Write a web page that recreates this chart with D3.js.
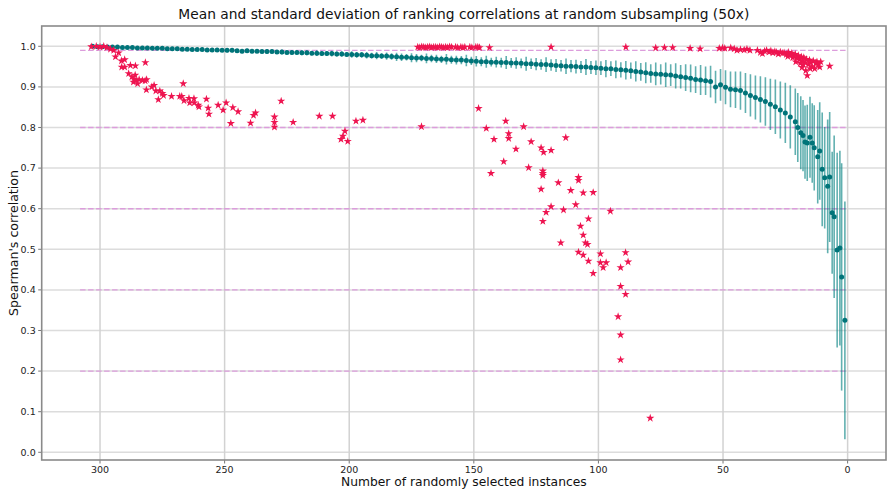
<!DOCTYPE html>
<html><head><meta charset="utf-8">
<script src="https://cdn.jsdelivr.net/npm/d3@7"></script>
<style>
html,body{margin:0;padding:0;background:#fff}
svg{display:block;font-family:"DejaVu Sans",sans-serif}
</style></head><body>
<svg id="chart" width="889" height="489"></svg>
<script>
// subsample size / mean spearman / std (50 runs)
const tealN = [303,301,299,297,295,293,291,289,287,285,283,281,279,277,275,273,271,269,267,265,263,261,259,257,255,253,251,249,247,245,243,241,239,237,235,233,231,229,227,225,223,221,219,217,215,213,211,209,207,205,203,201,199,197,195,193,191,189,187,185,183,181,179,177,175,173,171,169,167,165,163,161,159,157,155,153,151,149,147,145,143,141,139,137,135,133,131,129,127,125,123,121,119,117,115,113,111,109,107,105,103,101,99,97,95,93,91,89,87,85,83,81,79,77,75,73,71,69,67,65,63,61,59,57,55,53,51,49,47,45,43,41,39,37,35,33,31,29,27,25,23,21,20,18.8,17.9,17.1,16.2,15.1,14.2,13.4,12.0,11.2,10.2,9.2,8.0,7.2,6.2,5.4,4.2,3.1,2.4,1.1];
const tealMean = [1.000,.999,.999,.998,.998,.998,.997,.997,.997,.996,.996,.996,.995,.995,.995,.994,.994,.994,.993,.993,.992,.992,.992,.991,.991,.991,.990,.990,.990,.989,.988,.989,.988,.988,.987,.987,.987,.986,.986,.985,.985,.985,.984,.984,.983,.983,.982,.982,.982,.981,.981,.980,.980,.979,.979,.978,.977,.977,.976,.976,.975,.974,.973,.973,.972,.971,.971,.970,.970,.969,.968,.968,.967,.966,.966,.965,.964,.963,.962,.962,.961,.961,.960,.960,.959,.959,.958,.957,.957,.956,.955,.955,.954,.953,.952,.951,.951,.950,.949,.949,.948,.947,.946,.945,.945,.943,.942,.941,.940,.938,.937,.935,.933,.932,.931,.930,.929,.927,.925,.923,.921,.918,.917,.915,.913,.900,.905,.899,.894,.893,.891,.885,.879,.874,.869,.864,.857,.851,.843,.836,.826,.814,.800,.787,.780,.764,.762,.776,.762,.750,.728,.742,.697,.676,.655,.678,.590,.580,.498,.503,.432,.325];
const tealSd = [.002,.002,.002,.003,.002,.003,.003,.002,.003,.003,.003,.003,.003,.003,.004,.003,.004,.003,.004,.004,.004,.003,.004,.004,.005,.004,.004,.005,.005,.004,.005,.005,.005,.004,.005,.006,.005,.005,.006,.005,.006,.005,.006,.006,.005,.007,.006,.006,.007,.006,.007,.006,.008,.007,.007,.008,.007,.009,.007,.009,.008,.010,.009,.008,.011,.010,.008,.012,.009,.010,.009,.013,.010,.011,.010,.014,.010,.013,.011,.015,.011,.013,.012,.016,.012,.014,.012,.017,.013,.015,.013,.018,.014,.016,.014,.019,.015,.017,.015,.020,.016,.018,.017,.021,.018,.022,.019,.023,.020,.025,.022,.026,.023,.028,.025,.030,.027,.031,.029,.033,.034,.033,.037,.035,.039,.040,.039,.042,.044,.045,.047,.049,.052,.054,.057,.060,.063,.067,.070,.074,.078,.082,.085,.090,.088,.090,.094,.100,.098,.105,.115,.120,.140,.125,.165,.160,.150,.200,.240,.240,.280,.293];

// second ranking (single run)
const redN = [303.5,301.5,300,298.5,297.2,295.8,294.5,293.8,292.5,291.4,290.1,291.3,290.1,287.8,285.8,288.5,281.8,287.2,286.3,286.6,285.6,284.9,285.9,284.3,283,281.9,281.3,281.4,279.2,278.3,277.6,276.6,276,275,274.5,271.3,266.6,268,267.2,266.3,264.3,264,262.3,262.2,260.6,260.3,257.3,256.6,256.3,252.6,250.6,249.4,247.5,246.7,244.6,239.6,238.4,237.6,230,230,230,227.3,222.5,212,206.7,202.5,201.7,203.3,200.6,197.3,194.5,
  172.5,171.7,170.9,170.1,169.3,168.5,167.7,166.9,166.1,165.3,164.5,163.7,162.9,162.1,161.3,160.5,159.7,158.9,157.3,156.5,155.2,154.4,153.6,151.6,150.8,149.2,148.4,147.7,143.7,119,
  148.1,171,145,137.2,141.9,136,136,130,127,133.1,123,122,119,113.1,138,143.1,128,122.3,122.3,122.3,116.1,108,108,111.1,106.1,102.1,123,119,121,114,109.1,95.2,122.3,104,107.2,106.1,105.2,104.4,115.1,108,106.1,104,102.1,99.2,99.2,98.1,96.9,89.1,88.1,91.1,91.1,89.1,92.1,91.1,91.1,79.2,
  89,77,73.5,70.2,63.2,59.2,51.5,50.2,49.3,46.9,45.5,44.4,43,41.5,40.4,39.2,36.2,35,34.2,33.3,32.5,31.5,30.8,30,29.2,28.6,27.8,27,26.2,25.5,24.6,23.8,23,22.4,21.6,21,20.4,19.8,19.2,18.6,18,17.6,17,16.5,16.2,15.8,15.3,14.8,14.3,13.8,13.2,12.8,12.3,11.8,11.2,10.8,7.2,17.8,19,20.8,22,24,18.3,16.8,15];
const redRho = [.999,1.0,.998,1.0,.997,.993,.99,.974,.984,.964,.967,.949,.949,.953,.952,.933,.96,.925,.918,.912,.916,.908,.929,.918,.916,.915,.918,.893,.9,.904,.89,.869,.89,.884,.879,.877,.908,.877,.877,.866,.872,.861,.871,.861,.855,.851,.87,.848,.833,.855,.843,.861,.81,.849,.839,.811,.83,.836,.826,.813,.801,.865,.813,.828,.828,.779,.791,.771,.766,.816,.818,
  .998,.997,.999,.998,.997,.998,.999,.997,.998,.998,.997,.999,.998,.997,.998,.997,.999,.998,.998,.997,.998,.997,.998,.998,.997,.998,.998,.997,.997,.998,
  .847,.802,.798,.816,.771,.785,.773,.802,.765,.747,.75,.739,.744,.775,.716,.687,.701,.693,.687,.682,.664,.677,.67,.645,.639,.64,.648,.605,.591,.597,.61,.594,.569,.575,.557,.535,.516,.512,.516,.493,.486,.471,.441,.489,.467,.455,.467,.492,.469,.455,.409,.389,.334,.289,.228,.084,
  .998,.996,.997,.997,.995,.994,.995,.996,.995,.996,.994,.99,.992,.991,.993,.99,.99,.985,.982,.988,.99,.986,.989,.984,.987,.985,.981,.986,.983,.984,.98,.985,.978,.983,.975,.98,.971,.977,.968,.974,.965,.972,.96,.968,.928,.955,.966,.96,.95,.964,.945,.958,.962,.955,.949,.962,.951,.955,.958,.962,.972,.975,.948,.94,.945];

const refLevels = [0.99, 0.8, 0.6, 0.4, 0.2];
const refSpan = [308, 0];
const xTicks = [300, 250, 200, 150, 100, 50, 0];
const yTicks = [0, 0.1, 0.2, 0.3, 0.4, 0.5, 0.6, 0.7, 0.8, 0.9, 1.0];

const L = 41.7, R = 886, T = 26, B = 460;
const x = d3.scaleLinear().domain([323.4, -15.4]).range([L, R]);
const y = d3.scaleLinear().domain([-0.019, 1.05]).range([B, T]);
const svg = d3.select('#chart');

svg.append('defs').append('clipPath').attr('id', 'plot')
  .append('rect').attr('x', L).attr('y', T).attr('width', R - L).attr('height', B - T);

// grid
const grid = svg.append('g').attr('stroke', '#dcdcdc').attr('stroke-width', 1.5);
grid.selectAll('.gy').data(yTicks).join('line').attr('class', 'gy')
  .attr('x1', L).attr('x2', R).attr('y1', d => y(d)).attr('y2', d => y(d));
grid.selectAll('.gx').data(xTicks).join('line').attr('class', 'gx')
  .attr('y1', T).attr('y2', B).attr('x1', d => x(d)).attr('x2', d => x(d)).attr('stroke', '#d2d2d2');

// dashed reference levels
svg.append('g').selectAll('line').data(refLevels).join('line')
  .attr('x1', x(refSpan[0])).attr('x2', x(refSpan[1]))
  .attr('y1', d => y(d)).attr('y2', d => y(d))
  .attr('stroke', '#dc9ddc').attr('stroke-width', 1.4).attr('stroke-dasharray', '5.5,2.5');

const plot = svg.append('g').attr('clip-path', 'url(#plot)');

// error bars + means
plot.append('g').selectAll('line').data(tealN).join('line')
  .attr('x1', d => x(d)).attr('x2', d => x(d))
  .attr('y1', (d, i) => y(tealMean[i] + tealSd[i])).attr('y2', (d, i) => y(tealMean[i] - tealSd[i]))
  .attr('stroke', '#008080').attr('stroke-opacity', 0.62).attr('stroke-width', 1.6);
plot.append('g').selectAll('circle').data(tealN).join('circle')
  .attr('cx', d => x(d)).attr('cy', (d, i) => y(tealMean[i])).attr('r', 2.5)
  .attr('fill', '#007479');

// stars
const star = d3.symbol(d3.symbolStar, 21)();
plot.append('g').selectAll('path').data(redN).join('path')
  .attr('d', star)
  .attr('transform', (d, i) => `translate(${x(d)},${y(redRho[i])})`)
  .attr('fill', '#ee1450');

// axes
const ax = svg.append('g').attr('font-size', 9.5).attr('fill', '#222');
ax.selectAll('.ty').data(yTicks).join('line').attr('class', 'ty')
  .attr('x1', L - 3.5).attr('x2', L).attr('y1', d => y(d)).attr('y2', d => y(d)).attr('stroke', '#777');
ax.selectAll('.ly').data(yTicks).join('text').attr('class', 'ly')
  .attr('x', L - 6).attr('y', d => y(d)).attr('dy', '0.35em').attr('text-anchor', 'end')
  .text(d3.format('.1f'));
ax.selectAll('.tx').data(xTicks).join('line').attr('class', 'tx')
  .attr('x1', d => x(d)).attr('x2', d => x(d)).attr('y1', B).attr('y2', B + 3.5).attr('stroke', '#777');
ax.selectAll('.lx').data(xTicks).join('text').attr('class', 'lx')
  .attr('x', d => x(d)).attr('y', B + 12.5).attr('text-anchor', 'middle').text(d => d);

// frame
svg.append('rect').attr('x', L).attr('y', T).attr('width', R - L).attr('height', B - T)
  .attr('fill', 'none').attr('stroke', '#8a8a8a').attr('stroke-width', 1.6);

// labels
svg.append('text').attr('x', (L + R) / 2).attr('y', 19).attr('text-anchor', 'middle')
  .attr('font-size', 13.8).attr('fill', '#111')
  .text('Mean and standard deviation of ranking correlations at random subsampling (50x)');
svg.append('text').attr('x', (L + R) / 2).attr('y', 486).attr('text-anchor', 'middle')
  .attr('font-size', 12.3).attr('fill', '#111').text('Number of randomly selected instances');
svg.append('text').attr('transform', `translate(18,${(T + B) / 2}) rotate(-90)`).attr('text-anchor', 'middle')
  .attr('font-size', 12.6).attr('fill', '#111').text("Spearman's correlation");
</script>
</body></html>
